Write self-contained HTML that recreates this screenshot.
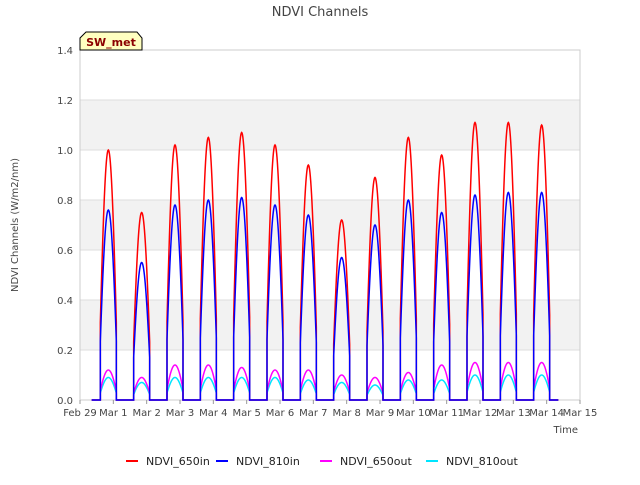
<!DOCTYPE html>
<html><head><meta charset="utf-8"><style>
body{margin:0;background:#fff;font-family:"Liberation Sans","DejaVu Sans",sans-serif}
svg text{font-family:"DejaVu Sans","Liberation Sans",sans-serif}
</style></head><body>
<svg id="chart" width="640" height="480" xmlns="http://www.w3.org/2000/svg">
<rect x="0" y="0" width="640" height="480" fill="#fff"/>
<g id="bands"></g><g id="grid"></g>
<rect x="80" y="50" width="500" height="350" fill="none" stroke="#ccc"/>
<g id="series"></g><g id="axes"></g>
<text x="320" y="16" text-anchor="middle" font-size="13" fill="#444">NDVI Channels</text>
<text x="18" y="225" text-anchor="middle" font-size="10" fill="#444" transform="rotate(-90 18 225)">NDVI Channels (W/m2/nm)</text>
<text x="578" y="433" text-anchor="end" font-size="10" fill="#444">Time</text>
<g>
<path d="M80,50 L80,38 L86,32 L137,32 L142,38 L142,50 Z" fill="#ffffc0" stroke="#000"/>
<text x="111" y="46" text-anchor="middle" font-size="11" font-weight="bold" fill="#8b0000">SW_met</text>
</g>
<g id="legend"></g>
</svg>
<script>
const dayLabels=["Feb 29","Mar 1","Mar 2","Mar 3","Mar 4","Mar 5","Mar 6","Mar 7","Mar 8","Mar 9","Mar 10","Mar 11","Mar 12","Mar 13","Mar 14","Mar 15"];
const yTicks=[0,0.2,0.4,0.6,0.8,1.0,1.2,1.4];
const seriesNames=["NDVI_650in","NDVI_810in","NDVI_650out","NDVI_810out"];
const seriesColors=["#ff0000","#0000ff","#ff00ff","#00e5ff"];
const peak650in=[1.0,0.75,1.02,1.05,1.07,1.02,0.94,0.72,0.89,1.05,0.98,1.11,1.11,1.10];
const peak810in=[0.76,0.55,0.78,0.80,0.81,0.78,0.74,0.57,0.70,0.80,0.75,0.82,0.83,0.83];
const peak650out=[0.12,0.09,0.14,0.14,0.13,0.12,0.12,0.10,0.09,0.11,0.14,0.15,0.15,0.15];
const peak810out=[0.09,0.07,0.09,0.09,0.09,0.09,0.08,0.07,0.06,0.08,0.08,0.10,0.10,0.10];
const NS="http://www.w3.org/2000/svg";
const X=d=>80+d*500/15, Y=v=>400-v*250;
function mk(tag,attrs,parent){const e=document.createElementNS(NS,tag);for(const k in attrs)e.setAttribute(k,attrs[k]);parent.appendChild(e);return e;}
const bands=document.getElementById('bands'),grid=document.getElementById('grid'),axes=document.getElementById('axes');
for(let i=0;i<yTicks.length-1;i++){if(i%2===1){const b=mk('rect',{x:80,y:Y(yTicks[i+1]),width:500,height:Y(yTicks[i])-Y(yTicks[i+1]),fill:'#f2f2f2'},bands);

}}
yTicks.forEach(v=>{const l=mk('line',{x1:80,x2:580,y1:Y(v),y2:Y(v),stroke:'#dddddd'},grid);


const t=mk('text',{x:73,y:Y(v)+4,'text-anchor':'end','font-size':10,fill:'#444'},axes);t.textContent=v.toFixed(1);

});
dayLabels.forEach((s,i)=>{const t=mk('text',{x:X(i),y:416,'text-anchor':'middle','font-size':10,fill:'#444'},axes);t.textContent=s;


mk('line',{x1:X(i),x2:X(i),y1:400,y2:404,stroke:'#999'},axes);});
const ser=document.getElementById('series');
const peaks=[peak650in,peak810in,peak650out,peak810out];
const half=0.24;
[3,2,0,1].forEach(si=>{let d='M'+X(0.35)+','+Y(0);
peaks[si].forEach((p,i)=>{const c=i+0.85;
d+=' L'+X(c-half)+','+Y(0);
for(let k=0;k<=40;k++){const t=-half+2*half*k/40;const v=p*Math.sin(Math.PI*(t+0.3)/0.6);d+=' L'+X(c+t).toFixed(2)+','+Y(v).toFixed(2);}
d+=' L'+X(c+half)+','+Y(0);});
d+=' L'+X(14.35)+','+Y(0);
const path=mk('path',{d:d,fill:'none',stroke:seriesColors[si],'stroke-width':1.5},ser);

});
const lg=document.getElementById('legend');const lx=[126,216,320,426];
seriesNames.forEach((n,i)=>{const g=mk('g',{},lg);


mk('line',{x1:lx[i],x2:lx[i]+12,y1:461,y2:461,stroke:seriesColors[i],'stroke-width':2},g);
const t=mk('text',{x:lx[i]+20,y:465,'font-size':11,fill:'#222'},g);t.textContent=n;});
</script>
</body></html>
